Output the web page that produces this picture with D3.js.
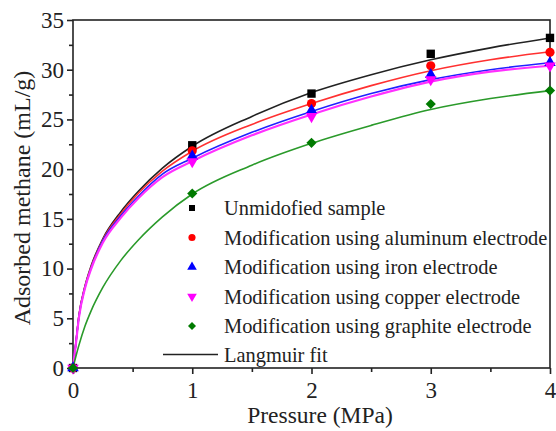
<!DOCTYPE html>
<html>
<head>
<meta charset="utf-8">
<script src="https://cdn.jsdelivr.net/npm/d3@7"></script>
<style>
  body { margin: 0; background: #fff; }
</style>
</head>
<body>
<script>
// measured points (pressure MPa, adsorbed methane mL/g)
const pressures = [0, 1, 2, 3, 4];
const unmodified = [0, 22.4, 27.6, 31.6, 33.2];
const aluminum = [0, 21.85, 26.6, 30.4, 31.75];
const iron = [0, 21.3, 25.9, 29.5, 30.7];
const copper = [0, 20.75, 25.3, 29.0, 30.4];
const graphite = [0, 17.55, 22.65, 26.55, 27.9];

// Langmuir fit curves
const fitP = [0, 0.025, 0.05, 0.1, 0.15, 0.25, 0.4, 0.55, 0.75, 1, 1.5, 2, 2.5, 3, 3.5, 4];
const fitUnmodified = [0, 2.6, 5.3, 8.2, 10.2, 13.0, 15.7, 17.8, 20.1, 22.3, 25.3, 27.7, 29.5, 31.0, 32.2, 33.2];
const fitAluminum   = [0, 2.6, 5.3, 8.2, 10.1, 12.9, 15.5, 17.6, 19.8, 21.8, 24.5, 26.6, 28.4, 29.9, 31.0, 31.8];
const fitIron       = [0, 2.6, 5.2, 8.1, 10.0, 12.8, 15.3, 17.3, 19.5, 21.1, 23.7, 25.8, 27.6, 29.0, 30.0, 30.7];
const fitCopper     = [0, 2.5, 5.1, 8.0, 9.9, 12.6, 15.1, 17.1, 19.2, 20.8, 23.4, 25.5, 27.3, 28.8, 29.8, 30.4];
const fitGraphite   = [0, 1.2, 2.3, 4.2, 5.7, 8.1, 10.8, 12.9, 15.2, 17.5, 20.4, 22.6, 24.4, 26.0, 27.1, 27.9];

const xTicks = [0, 1, 2, 3, 4];
const yTicks = [0, 5, 10, 15, 20, 25, 30, 35];

const seriesNames = [
  "Unmidofied sample",
  "Modification using aluminum electrode",
  "Modification using iron electrode",
  "Modification using copper electrode",
  "Modification using graphite electrode"
];
const seriesColors = ["#000000", "#ff0000", "#0000ff", "#ff00ff", "#007a00"];
const lineColors = ["#222222", "#ff3030", "#2020ff", "#ff30ff", "#2a9a2a"];
const seriesSymbols = ["square", "circle", "up", "down", "diamond"];

const FONT = '"Liberation Serif"';

const width = 556, height = 431;
const margin = { left: 73, right: 6, top: 20, bottom: 63 };

const svg = d3.select("body").append("svg")
  .attr("width", width)
  .attr("height", height);

const x = d3.scaleLinear().domain([0, 4]).range([margin.left, width - margin.right]);
const y = d3.scaleLinear().domain([0, 35]).range([height - margin.bottom, margin.top]);

// frame
svg.append("rect")
  .attr("x", x(0)).attr("y", y(35))
  .attr("width", x(4) - x(0)).attr("height", y(0) - y(35))
  .attr("fill", "none").attr("stroke", "#222").attr("stroke-width", 1.6);

// axes
const xMajor = svg.append("g").attr("transform", `translate(0,${y(0)})`)
  .call(d3.axisBottom(x).tickValues(xTicks).tickSize(6).tickPadding(8).tickFormat(d3.format("d")));
const xMinor = svg.append("g").attr("transform", `translate(0,${y(0)})`)
  .call(d3.axisBottom(x).tickValues([0.5, 1.5, 2.5, 3.5]).tickSize(4).tickFormat(""));
const yMajor = svg.append("g").attr("transform", `translate(${x(0)},0)`)
  .call(d3.axisLeft(y).tickValues(yTicks).tickSize(6).tickPadding(3).tickFormat(d3.format("d")));
const yMinor = svg.append("g").attr("transform", `translate(${x(0)},0)`)
  .call(d3.axisLeft(y).tickValues([2.5, 7.5, 12.5, 17.5, 22.5, 27.5, 32.5]).tickSize(4).tickFormat(""));

[xMajor, xMinor, yMajor, yMinor].forEach(g => {
  g.select(".domain").remove();
  g.selectAll("line").attr("stroke", "#222").attr("stroke-width", 1.6);
  g.selectAll("text").attr("font-size", 23).attr("fill", "#222")
    .style("font-family", FONT);
});

// axis titles
svg.append("text")
  .attr("x", 320).attr("y", 423)
  .attr("text-anchor", "middle").attr("font-size", 23.5)
  .style("font-family", FONT).attr("fill", "#222")
  .text("Pressure (MPa)");

svg.append("text")
  .attr("transform", "translate(30,198) rotate(-90)")
  .attr("text-anchor", "middle").attr("font-size", 24)
  .style("font-family", FONT).attr("fill", "#222")
  .text("Adsorbed methane (mL/g)");

// fit lines
const fits = [fitUnmodified, fitAluminum, fitIron, fitCopper, fitGraphite];
const line = d3.line()
  .x(d => x(d[0]))
  .y(d => y(d[1]))
  .curve(d3.curveMonotoneX);

const plot = svg.append("g");
fits.forEach((vals, i) => {
  plot.append("path")
    .datum(fitP.map((p, j) => [p, vals[j]]))
    .attr("fill", "none")
    .attr("stroke", lineColors[i])
    .attr("stroke-width", i === 3 ? 2.2 : 1.6)
    .attr("d", line);
});

// markers
const measured = [unmodified, aluminum, iron, copper, graphite];

function symbolPath(sym, size) {
  if (sym === "circle") return d3.symbol(d3.symbolCircle, size)();
  if (sym === "up" || sym === "down") return d3.symbol(d3.symbolTriangle, size)();
  return d3.symbol(d3.symbolSquare, size)(); // square, diamond (rotated square)
}
function symbolTransform(sym, cx, cy) {
  if (sym === "down") return `translate(${cx},${cy}) rotate(180)`;
  if (sym === "diamond") return `translate(${cx},${cy}) rotate(45)`;
  return `translate(${cx},${cy})`;
}
const sizes = [70, 66, 58, 58, 52];

measured.forEach((vals, i) => {
  plot.selectAll(null)
    .data(pressures.map((p, j) => [p, vals[j]]))
    .join("path")
    .attr("d", symbolPath(seriesSymbols[i], sizes[i]))
    .attr("transform", d => symbolTransform(seriesSymbols[i], x(d[0]), y(d[1])))
    .attr("fill", seriesColors[i]);
});

// legend
const legend = svg.append("g");
const legX = 192, legText = 224, legY = 208, legStep = 29.5;
const legSizes = [36, 40, 40, 40, 32];
seriesNames.forEach((name, i) => {
  const cy = legY + i * legStep;
  legend.append("path")
    .attr("d", symbolPath(seriesSymbols[i], legSizes[i]))
    .attr("transform", symbolTransform(seriesSymbols[i], legX, cy))
    .attr("fill", seriesColors[i]);
  legend.append("text")
    .attr("x", legText).attr("y", cy)
    .attr("dy", "0.35em")
    .attr("font-size", 20.4)
    .style("font-family", FONT).attr("fill", "#222")
    .text(name);
});
const fitY = legY + 5 * legStep - 1;
legend.append("line")
  .attr("x1", 163).attr("x2", 218)
  .attr("y1", fitY).attr("y2", fitY)
  .attr("stroke", "#222").attr("stroke-width", 1.6);
legend.append("text")
  .attr("x", legText).attr("y", fitY)
  .attr("dy", "0.35em")
  .attr("font-size", 20.4)
  .style("font-family", FONT).attr("fill", "#222")
  .text("Langmuir fit");
</script>
</body>
</html>
